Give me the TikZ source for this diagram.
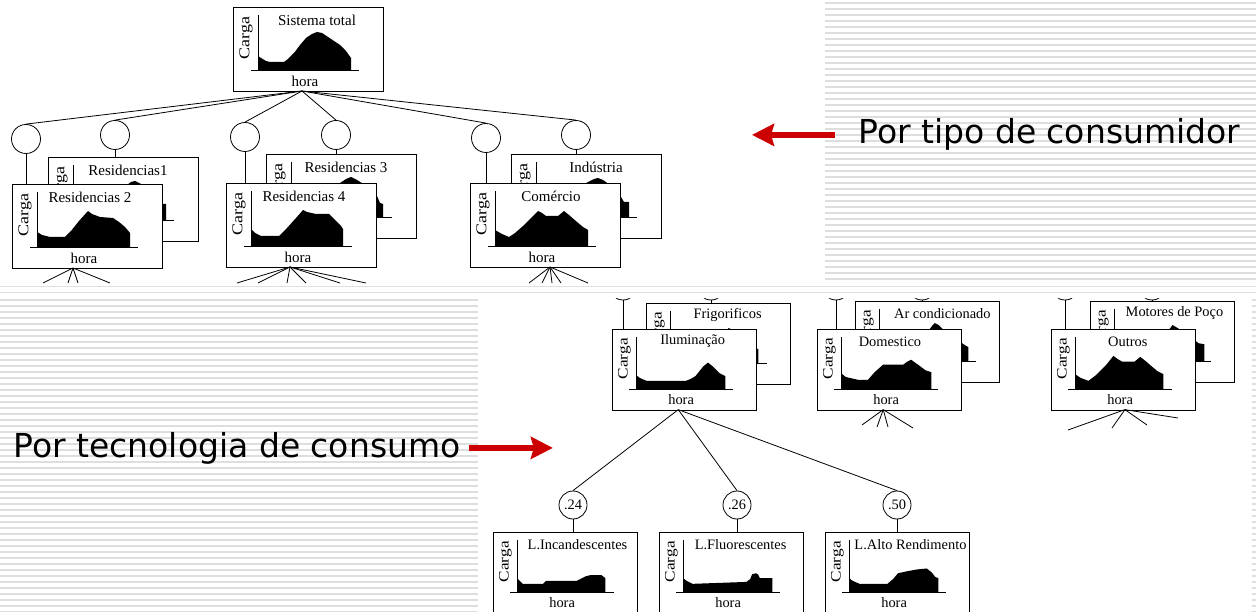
\documentclass[tikz,border=0pt]{standalone}
\usepackage{fontspec}
\setmainfont{Liberation Serif}
\newfontfamily\dejavu{DejaVu Sans}
\usepackage{tikz}
\usetikzlibrary{arrows.meta}
\definecolor{arrowred}{RGB}{204,0,0}
\definecolor{stripegray}{RGB}{222,222,222}
\tikzset{>=stealth,
  chart/.style={draw, fill=white, rectangle, minimum width=150pt, minimum height=84pt, inner sep=0pt, transform shape, line width=0.9pt},
  knot/.style={draw, fill=white, circle, minimum size=29pt, inner sep=0pt},
  chartfont/.style={font=\fontsize{15}{18}\selectfont, inner sep=0pt},
  stripe/.style={draw=stripegray, line width=1.4pt},
  redarrow/.style={draw=arrowred, line width=6pt, -{Stealth[length=22pt,width=22pt,inset=3pt]}},
  bigtext/.style={font=\dejavu\fontsize{33}{40}\selectfont, inner sep=0pt}
}
% name, top left, title, title x, hub x, profile, scale
\newcommand{\chartbox}[7]{%
  \begin{scope}[shift={#2}, scale=#7]
    \node[chart, anchor=north west] (#1) at (0,0) {};
    \node[chartfont] (#1-title) at (#4,13) {#3};
    \node[chartfont, rotate=90] (#1-carga) at (13,31) {\scalebox{1.2}[1]{Carga}};
    \node[chartfont] (#1-hora) at (72,74) {hora};
    \coordinate (#1-hub) at (#5,84);
    \draw (25,8) -- (25,63) (18,63) -- (126,63);
    \begin{scope}[shift={(25,63)}, yscale=-1]
      \fill (0,0) -- plot coordinates {#6} -- cycle;
    \end{scope}
  \end{scope}}

\begin{document}
\begin{tikzpicture}[x=1pt, y=-1pt, line width=0.8pt]
    \useasboundingbox (0,0) rectangle (1256,612);
    % background
    \foreach \y in {3,9,...,279} \draw[stripe] (825,\y) -- (1256,\y);
    \foreach \y in {300,306,...,612} \draw[stripe] (0,\y) -- (478,\y);
    \foreach \y in {300,306,...,612} \draw[stripe] (1252,\y) -- (1256,\y);
    \draw[gray!25] (0,286) -- (1256,286) (0,292) -- (1256,292);

    % por tipo de consumidor
    \chartbox{res1}{(48,157)}{Residencias1}{80}{72}{(0,15) (5,12) (13,10) (30,10) (40,20) (50,32) (58,38) (62,39) (68,36) (76,30) (84,20) (86,16) (93,16) (93,0)}{1}
    \chartbox{res3}{(266,154)}{Residencias 3}{80}{72}{(0,16) (5,12) (12,10) (28,10) (36,20) (46,32) (55,38) (60,40) (66,37) (74,32) (80,27) (86,21) (89,14) (92,13) (92,0)}{1}
    \chartbox{ind}{(511,154)}{Indústria}{85}{72}{(0,15) (8,12) (18,10) (30,14) (40,24) (50,34) (58,38) (62,39) (67,37) (74,32) (80,26) (85,20) (88,15) (93,15) (93,0)}{1}
    \chartbox{sis}{(233,7)}{Sistema total}{84}{69}{(0,14) (3,12) (8,9) (12,8) (26,8) (30,11) (36,17) (42,25) (48,32) (54,36) (59,38) (64,37) (70,33) (76,29) (82,25) (88,19) (93,12) (93,0)}{1}
    \chartbox{res2}{(12,184)}{Residencias 2}{78}{61}{(0,15) (5,12) (13,10) (28,10) (34,16) (42,26) (51,36) (55,33) (63,30) (76,29) (82,25) (88,20) (93,14) (93,0)}{1}
    \chartbox{res4}{(226,183)}{Residencias 4}{78}{64}{(0,17) (4,13) (10,10) (28,10) (36,18) (45,28) (52,36) (56,34) (65,32) (78,32) (84,26) (90,20) (92,17) (92,0)}{1}
    \chartbox{com}{(470,183)}{Comércio}{81}{80}{(0,16) (7,12) (14,9) (20,13) (28,20) (36,28) (43,35) (47,33) (51,30) (63,30) (69,35) (74,31) (82,24) (88,19) (93,16) (93,0)}{1}

    \node[knot] (cRes2) at (26,139) {};
    \node[knot] (cRes1) at (115,135) {};
    \node[knot] (cRes4) at (245,137) {};
    \node[knot] (cRes3) at (336,135) {};
    \node[knot] (cCom) at (486,138) {};
    \node[knot] (cInd) at (576,135) {};
    \foreach \c in {cRes2,cRes1,cRes4,cRes3,cCom,cInd} \draw (sis-hub) -- (\c.north);
    \draw (cRes2.south) -- (cRes2 |- res2.north);
    \draw (cRes1.south) -- (cRes1 |- res1.north);
    \draw (cRes4.south) -- (cRes4 |- res4.north);
    \draw (cRes3.south) -- (cRes3 |- res3.north);
    \draw (cCom.south) -- (cCom |- com.north);
    \draw (cInd.south) -- (cInd |- ind.north);
    \foreach \ex in {43,68,78,110} \draw (res2-hub) -- (\ex,283);
    \foreach \ex in {237,258,287,306,340,366} \draw (res4-hub) -- (\ex,283);
    \foreach \ex in {529,542,552,561,588} \draw (com-hub) -- (\ex,283);

    \node[bigtext, anchor=base west] (tipo) at (858,144) {Por tipo de consumidor};
    \draw[redarrow] ([xshift=-23pt]tipo.west) -- ++(-83,0);

    % por tecnologia de consumo
    \tikzset{chartfont/.style={font=\fontsize{14.4}{17}\selectfont, inner sep=0pt}, knot/.style={draw, fill=white, circle, minimum size=28pt, inner sep=0pt}}
    \chartbox{fri}{(646,303)}{Frigorificos}{85}{72}{(0,15) (5,12) (12,9) (50,9) (55,12) (58,30) (61,37) (65,35) (70,28) (80,20) (88,16) (92,15) (92,0)}{0.96}
    \chartbox{ar}{(855,301)}{Ar condicionado}{91}{72}{(0,15) (5,12) (15,10) (30,10) (40,20) (50,30) (56,38) (58,40) (62,38) (70,30) (80,24) (88,18) (93,15) (93,0)}{0.96}
    \chartbox{mot}{(1090,301)}{Motores de Poço}{88}{72}{(0,16) (6,12) (14,9) (22,15) (32,25) (40,33) (45,30) (50,28) (58,34) (61,38) (66,35) (74,30) (82,24) (88,19) (94,18) (94,0)}{0.96}
    \chartbox{ilum}{(612,329)}{Iluminação}{84}{69}{(0,15) (4,12) (11,9) (52,9) (57,11) (62,14) (70,24) (75,28) (80,24) (87,17) (93,14) (93,0)}{0.96}
    \chartbox{dom}{(817,329)}{Domestico}{76}{69}{(0,17) (5,13) (18,10) (28,10) (35,18) (44,26) (65,26) (69,29) (73,31) (80,26) (88,20) (94,18) (94,0)}{0.96}
    \chartbox{out}{(1051,329)}{Outros}{80}{77}{(0,16) (6,12) (14,9) (22,15) (32,25) (40,35) (44,32) (49,29) (62,29) (68,34) (73,30) (80,24) (86,19) (92,16) (92,0)}{0.96}

    \begin{scope}
      \clip (478,298.5) rectangle (1256,612);
      \foreach \c/\cx/\b in {cIlum/623/ilum, cFri/711/fri, cDom/836/dom, cAr/922/ar, cOut/1065/out, cMot/1152/mot}{
        \node[knot] (\c) at (\cx,286) {};
        \draw (\c.south) -- (\c |- \b.north);
      }
    \end{scope}

    \chartbox{linc}{(493,532)}{L.Incandescentes}{88}{72}{(0,15) (3,12) (6,9) (27,9) (30,12) (62,12) (66,14) (72,17) (76,18) (88,18) (92,15) (92,0)}{0.96}
    \chartbox{lflu}{(659,532)}{L.Fluorescentes}{85}{72}{(0,15) (4,12) (10,9) (38,10) (66,11) (70,14) (72,19) (76,20) (78,19) (80,15) (93,15) (93,0)}{0.96}
    \chartbox{lalto}{(825,532)}{L.Alto Rendimento}{89}{72}{(0,15) (4,12) (11,9) (40,9) (46,14) (51,20) (60,22) (71,24) (81,25) (86,21) (90,16) (93,15) (93,0)}{0.96}

    \node[knot, chartfont] (c24) at (573,505) {.24};
    \node[knot, chartfont] (c26) at (737,505) {.26};
    \node[knot, chartfont] (c50) at (897,505) {.50};
    \foreach \c in {c24,c26,c50} \draw (ilum-hub) -- (\c.north);
    \draw (c24.south) -- (c24 |- linc.north);
    \draw (c26.south) -- (c26 |- lflu.north);
    \draw (c50.south) -- (c50 |- lalto.north);
    \foreach \ex/\ey in {862/425,877/427,888/427,913/428} \draw (dom-hub) -- (\ex,\ey);
    \foreach \ex/\ey in {1068/430,1112/428,1147/425,1178/418} \draw (out-hub) -- (\ex,\ey);

    \node[bigtext, anchor=base west] (tecno) at (13,457) {Por tecnologia de consumo};
    \draw[redarrow] ([xshift=8pt]tecno.east) -- ++(84,0);
\end{tikzpicture}
\end{document}
